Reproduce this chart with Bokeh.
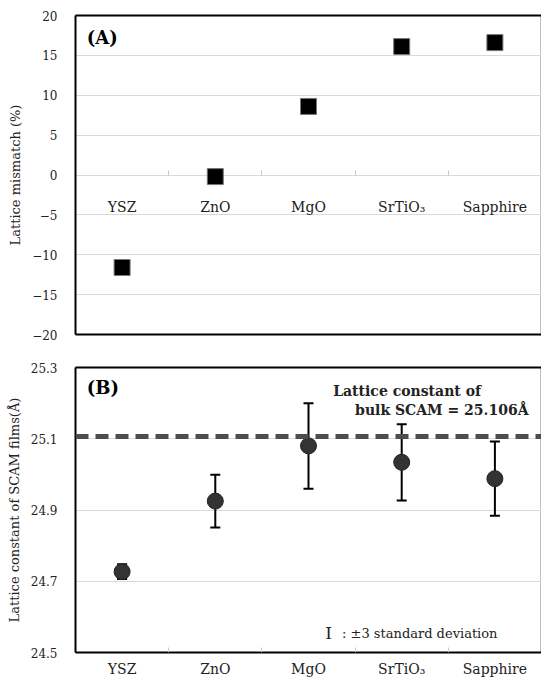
from bokeh.plotting import figure
from bokeh.layouts import column
from bokeh.models import (ColumnDataSource, Range1d, LinearAxis,
                          FixedTicker, Span, Label, Whisker, TeeHead)
from bokeh.embed import file_html
from bokeh.resources import INLINE

# ---------------- data ----------------
substrates = ["YSZ", "ZnO", "MgO", "SrTiO₃", "Sapphire"]
mismatch = [-11.6, -0.2, 8.6, 16.1, 16.6]            # %  (panel A)
lattice = [24.727, 24.925, 25.080, 25.034, 24.988]   # Å  (panel B)
sd3 = [0.021, 0.074, 0.120, 0.107, 0.104]            # ±3 standard deviation
bulk_scam = 25.106

a_ticks = [-20, -15, -10, -5, 0, 5, 10, 15, 20]
a_tick_labels = ["−20", "−15", "−10", "−5", "0", "5", "10", "15", "20"]
b_ticks = [24.5, 24.7, 24.9, 25.1, 25.3]
b_tick_labels = ["24.5", "24.7", "24.9", "25.1", "25.3"]

SERIF = "DejaVu Serif"
TXT = "#222222"
GRID = "#d9d9d9"
n = len(substrates)
centers = [i + 0.5 for i in range(n)]          # category slot centres
boundaries = list(range(1, n))                  # slot boundaries
cat_labels = dict(zip(centers, substrates))


def make_fig(height, y_range, top, bottom):
    p = figure(width=541, height=height, x_range=Range1d(0, n),
               y_range=y_range, output_backend="svg", toolbar_location=None,
               min_border_left=75, min_border_right=0,
               min_border_top=top, min_border_bottom=bottom)
    p.outline_line_color = "#bfbfbf"
    p.outline_line_width = 1
    p.xgrid.visible = False
    p.ygrid.grid_line_color = GRID
    p.ygrid.grid_line_width = 1
    # y axis
    ya = p.yaxis[0]
    ya.axis_line_color = "black"
    ya.axis_line_width = 2
    ya.major_tick_line_color = None
    ya.minor_tick_line_color = None
    ya.major_label_text_font = SERIF
    ya.major_label_text_font_size = "12px"
    ya.major_label_text_color = TXT
    ya.major_label_standoff = 12
    ya.axis_label_text_font = SERIF
    ya.axis_label_text_font_style = "normal"
    ya.axis_label_text_font_size = "13px"
    ya.axis_label_text_color = TXT
    ya.axis_label_standoff = 6
    # x (category) axis
    xa = p.xaxis[0]
    xa.ticker = FixedTicker(ticks=centers)
    xa.major_label_overrides = cat_labels
    xa.major_tick_line_color = None
    xa.minor_tick_line_color = None
    xa.major_label_text_font = SERIF
    xa.major_label_text_font_size = "14px"
    xa.major_label_text_color = TXT
    # top border
    top_ax = LinearAxis(ticker=FixedTicker(ticks=[]),
                        axis_line_color="black", axis_line_width=2,
                        major_tick_out=0, major_tick_in=0, major_label_standoff=0)
    p.add_layout(top_ax, "above")
    return p, xa, ya


def boundary_ticks(loc):
    return LinearAxis(ticker=FixedTicker(ticks=boundaries), fixed_location=loc,
                      axis_line_color=None, major_tick_in=5, major_tick_out=0,
                      major_tick_line_color="#c8c8c8", minor_tick_line_color=None,
                      major_label_overrides={b: "" for b in boundaries},
                      major_label_standoff=0)


# ---------------- panel A ----------------
pa, xa, ya = make_fig(341, Range1d(-20, 20), 15, 7)
ya.ticker = FixedTicker(ticks=a_ticks)
ya.major_label_overrides = dict(zip(a_ticks, a_tick_labels))
ya.axis_label = "Lattice mismatch (%)"
xa.fixed_location = 0
xa.axis_line_color = None
xa.major_label_standoff = 18

bot_a = LinearAxis(ticker=FixedTicker(ticks=[]),
                   axis_line_color="black", axis_line_width=2,
                   major_tick_out=0, major_tick_in=0, major_label_standoff=0)
pa.add_layout(bot_a, "below")
pa.add_layout(boundary_ticks(0), "below")

src_a = ColumnDataSource(dict(x=centers, y=mismatch))
pa.scatter("x", "y", source=src_a, marker="square", size=16,
           fill_color="black", line_color="#777777", line_width=1)
pa.add_layout(Label(x=0.12, y=17.2, text="(A)",
                    text_font=SERIF, text_font_style="bold", text_font_size="18px",
                    text_baseline="middle", text_color="black"))

# ---------------- panel B ----------------
pb, xb, yb = make_fig(338, Range1d(24.5, 25.3), 26, 24)
yb.ticker = FixedTicker(ticks=b_ticks)
yb.major_label_overrides = dict(zip(b_ticks, b_tick_labels))
yb.axis_label = "Lattice constant of SCAM films(Å)"
xb.axis_line_color = "black"
xb.axis_line_width = 2
xb.major_tick_out = 0
xb.major_tick_in = 0
xb.major_label_standoff = 8
pb.add_layout(boundary_ticks(24.5), "below")

pb.add_layout(Span(location=bulk_scam, dimension="width", line_color="#4d4d4d",
                   line_width=5, line_dash="13 7"))

src_b = ColumnDataSource(dict(x=centers, y=lattice,
                              upper=[v + e for v, e in zip(lattice, sd3)],
                              lower=[v - e for v, e in zip(lattice, sd3)]))
pb.add_layout(Whisker(source=src_b, base="x", upper="upper", lower="lower",
                      line_color="black", line_width=2,
                      upper_head=TeeHead(size=10, line_width=2, line_color="black"),
                      lower_head=TeeHead(size=10, line_width=2, line_color="black")))
pb.scatter("x", "y", source=src_b, marker="circle", size=16,
           fill_color="#333333", line_color="#222222", line_width=1)

pb.add_layout(Label(x=0.12, y=25.245, text="(B)",
                    text_font=SERIF, text_font_style="bold", text_font_size="18px",
                    text_baseline="middle", text_color="black"))
pb.add_layout(Label(x=2.765, y=25.235, text="Lattice constant of",
                    text_font=SERIF, text_font_style="bold", text_font_size="14px",
                    text_baseline="middle", text_color=TXT))
pb.add_layout(Label(x=3.0, y=25.180, text="bulk SCAM = 25.106Å",
                    text_font=SERIF, text_font_style="bold", text_font_size="14px",
                    text_baseline="middle", text_color=TXT))
pb.add_layout(Label(x=2.68, y=24.556, text="I",
                    text_font=SERIF, text_font_size="17px",
                    text_baseline="middle", text_color=TXT))
pb.add_layout(Label(x=2.86, y=24.554, text=": ±3 standard deviation",
                    text_font=SERIF, text_font_size="13px",
                    text_baseline="middle", text_color=TXT))

layout = column(pa, pb, spacing=0)
open("out.html", "w").write(file_html(layout, INLINE))
